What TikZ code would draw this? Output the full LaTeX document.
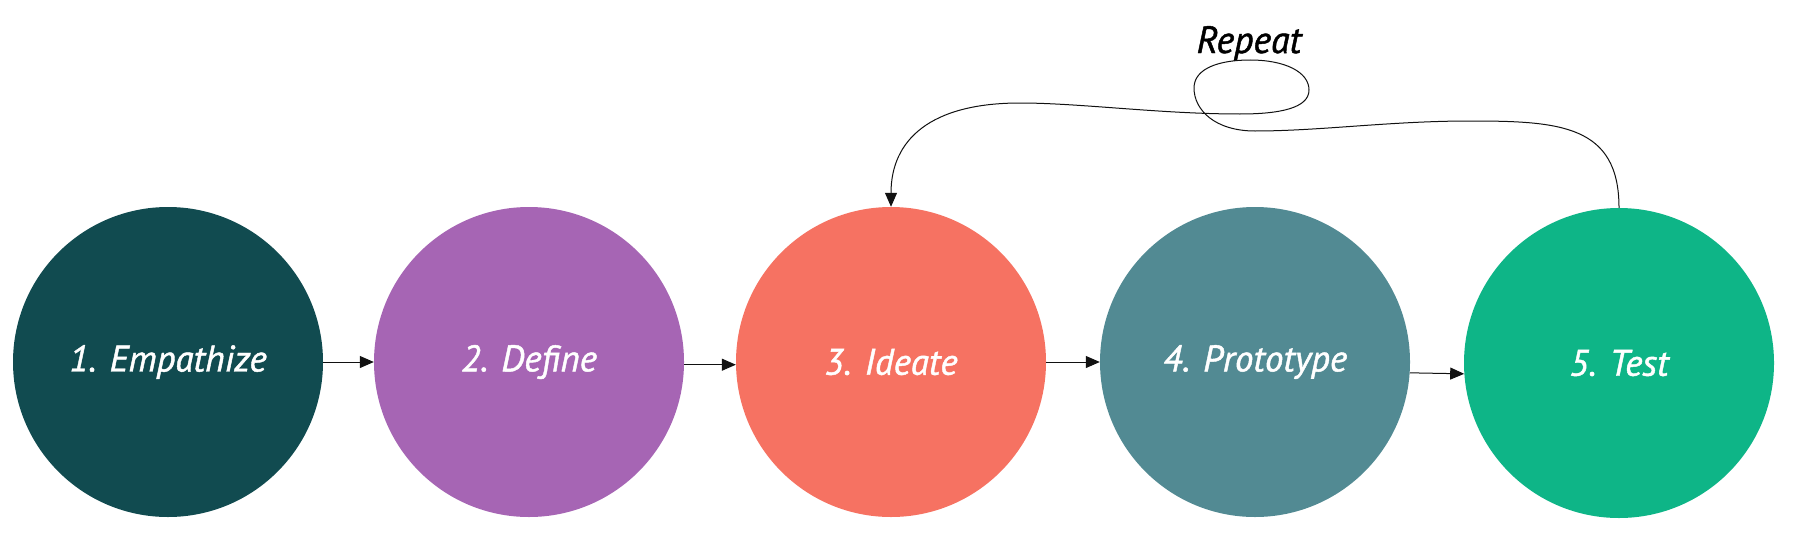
\documentclass[tikz,border=0pt]{standalone}
\usepackage{fontspec}
\setmainfont{PT Sans}
\newfontfamily\handfont[FakeBold=1.2]{PT Sans}
\usetikzlibrary{arrows.meta}
\definecolor{cEmp}{HTML}{114B50}
\definecolor{cDef}{HTML}{A665B4}
\definecolor{cIde}{HTML}{F67262}
\definecolor{cPro}{HTML}{528A93}
\definecolor{cTes}{HTML}{0EB587}
\definecolor{lineC}{HTML}{111111}
\tikzset{
  stage/.style={circle, minimum size=310pt, inner sep=0pt, draw=none,
    font=\handfont\fontsize{37}{40}\selectfont\itshape, text=white},
  flow/.style={draw=lineC, line width=1pt, -{Triangle[length=14pt,width=12pt]}},
  loopline/.style={draw=lineC, line width=1pt},
  lbl/.style={font=\handfont\fontsize{38}{40}\selectfont\itshape, text=black, inner sep=0pt}
}
\begin{document}
\begin{tikzpicture}[x=1pt,y=-1pt]
\useasboundingbox[fill=white] (0,0) rectangle (1811,551);
\node[stage, fill=cEmp] (c1) at (168,362) {1. Empathize};
\node[stage, fill=cDef] (c2) at (529,362) {2. Define};
\node[stage, fill=cIde] (c3) at (891,362) {3. Ideate};
\node[stage, fill=cPro] (c4) at (1255,362) {4. Prototype};
\node[stage, fill=cTes] (c5) at (1619,363) {5. Test};
\draw[flow] (c1.east) -- (c2.west);
\draw[flow] (c2.-1.5) -- (c3.181);
\draw[flow] (c3.east) -- (c4.west);
\draw[flow] (c4.-4) -- (c5.184);
\node[lbl, anchor=base] (rep) at (1249,53) {Repeat};
\coordinate (a1) at (1470,121);
\coordinate (a2) at (1255,131);
\coordinate (a3) at (1194,88);
\coordinate (a4) at (1250,60);
\coordinate (a5) at (1309,90);
\coordinate (a6) at (1240,114);
\coordinate (a7) at (1020,103);
\draw[loopline, -{Triangle[length=14pt,width=12pt]}] (c5.north)
  .. controls (1619,125) and (1560,121) .. (a1)
  .. controls (1390,121) and (1320,131) .. (a2)
  .. controls (1215,131) and (1194,110) .. (a3)
  .. controls (1194,68) and (1220,60) .. (a4)
  .. controls (1285,60) and (1309,72) .. (a5)
  .. controls (1309,108) and (1280,114) .. (a6)
  .. controls (1160,114) and (1080,103) .. (a7)
  .. controls (930,103) and (891,140) .. (c3.north);
\end{tikzpicture}
\end{document}
